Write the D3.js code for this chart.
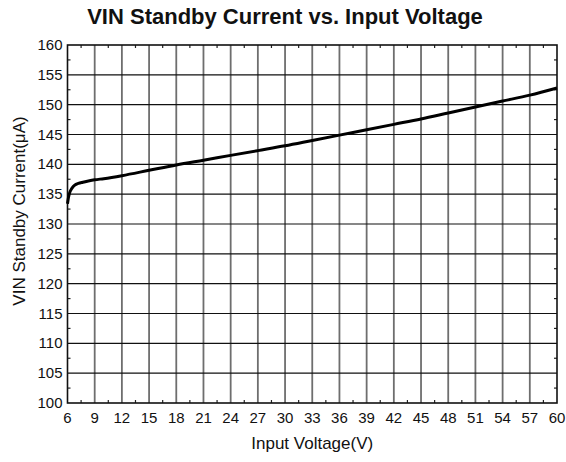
<!DOCTYPE html>
<head>
    <meta charset="utf-8">
    <script src="https://d3js.org/d3.v7.min.js"></script>
    <style>
      body { margin: 0; background: white; }
      text { font-family: "Liberation Sans", Arial, sans-serif; fill: #111; }
      .charttitle { font-size: 22px; font-weight: bold; }
      .axislabel { font-size: 17px; }
      .ticklabel { font-size: 15px; }
    </style>
</head>
<body>
    <script>
        // data
        var voltage = [6, 6.1, 6.25, 6.5, 6.8, 7.2, 7.7, 8.3, 9, 10, 12, 15, 18, 21, 24, 27, 30, 33, 36, 39, 42, 45, 48, 51, 54, 57, 60]
        var current = [133.4, 134.4, 135.3, 136.0, 136.5, 136.8, 137.0, 137.2, 137.4, 137.6, 138.1, 139.0, 139.9, 140.7, 141.5, 142.3, 143.1, 144.0, 144.9, 145.8, 146.7, 147.6, 148.6, 149.6, 150.6, 151.6, 152.8]
        var xTicks = [6, 9, 12, 15, 18, 21, 24, 27, 30, 33, 36, 39, 42, 45, 48, 51, 54, 57, 60]
        var yTicks = [100, 105, 110, 115, 120, 125, 130, 135, 140, 145, 150, 155, 160]

        var svg_w = 566, svg_h = 462
        var plotL = 67.5, plotR = 557, plotT = 45, plotB = 403

        var svg = d3.select("body").append("svg")
          .attr("width", svg_w)
          .attr("height", svg_h)

        var x = d3.scaleLinear().domain([6, 60]).range([plotL, plotR])
        var y = d3.scaleLinear().domain([100, 160]).range([plotB, plotT])

        // vertical grid (grey)
        svg.append("g").selectAll("line")
          .data(xTicks.slice(1, -1))
          .enter().append("line")
          .attr("x1", function(d) {return x(d)}).attr("x2", function(d) {return x(d)})
          .attr("y1", plotT).attr("y2", plotB)
          .attr("stroke", "#6e6e6e").attr("stroke-width", 1.8)

        // horizontal grid (black)
        svg.append("g").selectAll("line")
          .data(yTicks.slice(1, -1))
          .enter().append("line")
          .attr("x1", plotL).attr("x2", plotR)
          .attr("y1", function(d) {return y(d)}).attr("y2", function(d) {return y(d)})
          .attr("stroke", "#111").attr("stroke-width", 1.2)

        // minor ticks, inward on all four sides
        var xMinor = d3.range(7.5, 60, 3)
        var yMinor = d3.range(102.5, 160, 5)
        var minor = svg.append("g").attr("stroke", "#222").attr("stroke-width", 1.2)
        xMinor.forEach(function(d) {
          minor.append("line").attr("x1", x(d)).attr("x2", x(d)).attr("y1", plotB).attr("y2", plotB - 3)
          minor.append("line").attr("x1", x(d)).attr("x2", x(d)).attr("y1", plotT).attr("y2", plotT + 3)
        })
        yMinor.forEach(function(d) {
          minor.append("line").attr("x1", plotL).attr("x2", plotL + 3).attr("y1", y(d)).attr("y2", y(d))
          minor.append("line").attr("x1", plotR).attr("x2", plotR - 3).attr("y1", y(d)).attr("y2", y(d))
        })

        // frame
        svg.append("rect")
          .attr("x", plotL).attr("y", plotT)
          .attr("width", plotR - plotL).attr("height", plotB - plotT)
          .attr("fill", "none").attr("stroke", "#111").attr("stroke-width", 1.6)

        // curve
        var line = d3.line()
          .x(function(d) {return x(d[0])})
          .y(function(d) {return y(d[1])})
          .curve(d3.curveMonotoneX)
        svg.append("path")
          .datum(voltage.map(function(v, i) {return [v, current[i]]}))
          .attr("d", line)
          .attr("fill", "none")
          .attr("stroke", "#000")
          .attr("stroke-width", 3)

        // tick labels
        svg.append("g").selectAll("text")
          .data(xTicks)
          .enter().append("text")
          .classed("ticklabel", true)
          .attr("x", function(d) {return x(d)})
          .attr("y", 423)
          .attr("text-anchor", "middle")
          .text(function(d) {return d})

        svg.append("g").selectAll("text")
          .data(yTicks)
          .enter().append("text")
          .classed("ticklabel", true)
          .attr("x", plotL - 5)
          .attr("y", function(d) {return y(d) + 5})
          .attr("text-anchor", "end")
          .text(function(d) {return d})

        // titles
        svg.append("text")
          .classed("charttitle", true)
          .attr("x", 285)
          .attr("y", 24)
          .attr("text-anchor", "middle")
          .text("VIN Standby Current vs. Input Voltage")

        svg.append("text")
          .classed("axislabel", true)
          .attr("x", (plotL + plotR) / 2)
          .attr("y", 449)
          .attr("text-anchor", "middle")
          .text("Input Voltage(V)")

        svg.append("text")
          .classed("axislabel", true)
          .attr("transform", "translate(25," + 211 + ") rotate(-90)")
          .attr("text-anchor", "middle")
          .text("VIN Standby Current(μA)")
    </script>
</body>
